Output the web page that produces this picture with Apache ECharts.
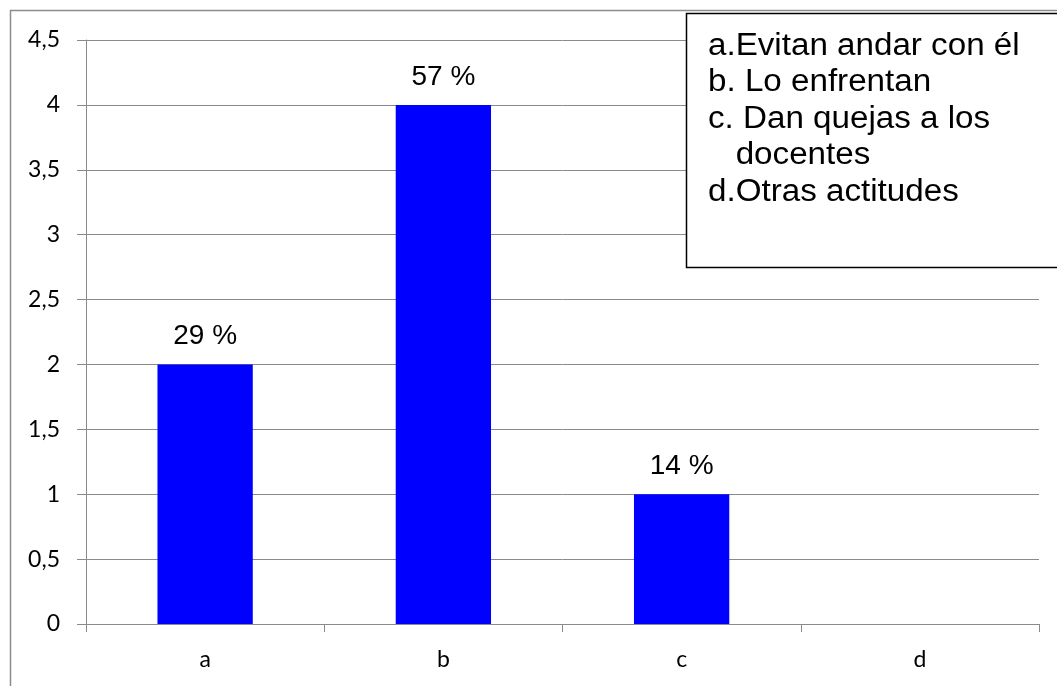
<!DOCTYPE html>
<html>
<head>
<meta charset="utf-8">
<script src="https://cdn.jsdelivr.net/npm/echarts@6/dist/echarts.min.js"></script>
<style>
html,body{margin:0;padding:0;background:#fff;}
#c{width:1057px;height:686px;}
</style>
</head>
<body>
<div id="c"></div>
<script>
const categories = ['a', 'b', 'c', 'd'];
const values = [2, 4, 1, 0];
const valueLabels = ['29 %', '57 %', '14 %', ''];
const legendLines = ['a.Evitan andar con él', 'b. Lo enfrentan', 'c. Dan quejas a los', '   docentes', 'd.Otras actitudes'];

const chart = echarts.init(document.getElementById('c'));
const gray = '#8a8a8a';
chart.setOption({
  animation: false,
  backgroundColor: '#fff',
  grid: { left: 86, right: 18, top: 40, bottom: 62 },
  xAxis: {
    type: 'category',
    data: categories,
    axisLine: { lineStyle: { color: gray, width: 1 } },
    axisTick: { show: true, length: 8, lineStyle: { color: gray } },
    axisLabel: { color: '#000', fontFamily: 'Lato', fontSize: 23, margin: 24 }
  },
  yAxis: {
    type: 'value',
    min: 0, max: 4.5, interval: 0.5,
    axisLine: { show: true, lineStyle: { color: gray, width: 1 } },
    axisTick: { show: true, length: 9, lineStyle: { color: gray } },
    splitLine: { lineStyle: { color: gray, width: 1 } },
    axisLabel: {
      color: '#000', fontFamily: 'Lato', fontSize: 23, margin: 26,
      formatter: v => String(v).replace('.', ',')
    }
  },
  series: [{
    type: 'bar',
    data: values,
    barCategoryGap: '60%',
    itemStyle: { color: '#0000ff' },
    label: {
      show: true, position: 'top', distance: 14,
      fontFamily: 'Liberation Sans', fontSize: 28, color: '#000',
      formatter: p => valueLabels[p.dataIndex]
    }
  }],
  graphic: [
    {
      type: 'rect', z: 100, silent: true,
      shape: { x: 10.5, y: 10.5, width: 1100, height: 700 },
      style: { fill: 'none', stroke: '#8c8c8c', lineWidth: 1.5 }
    },
    {
      type: 'rect', z: 100,
      shape: { x: 686.5, y: 13.5, width: 400, height: 254 },
      style: { fill: '#fff', stroke: '#000', lineWidth: 1.5 }
    },
    {
      type: 'text', z: 101, x: 708, y: 28, scaleX: 1.07,
      style: {
        text: legendLines.join('\n'),
        fontFamily: 'Liberation Sans', fontSize: 31, lineHeight: 36.5, fill: '#000'
      }
    }
  ]
});
</script>
</body>
</html>
